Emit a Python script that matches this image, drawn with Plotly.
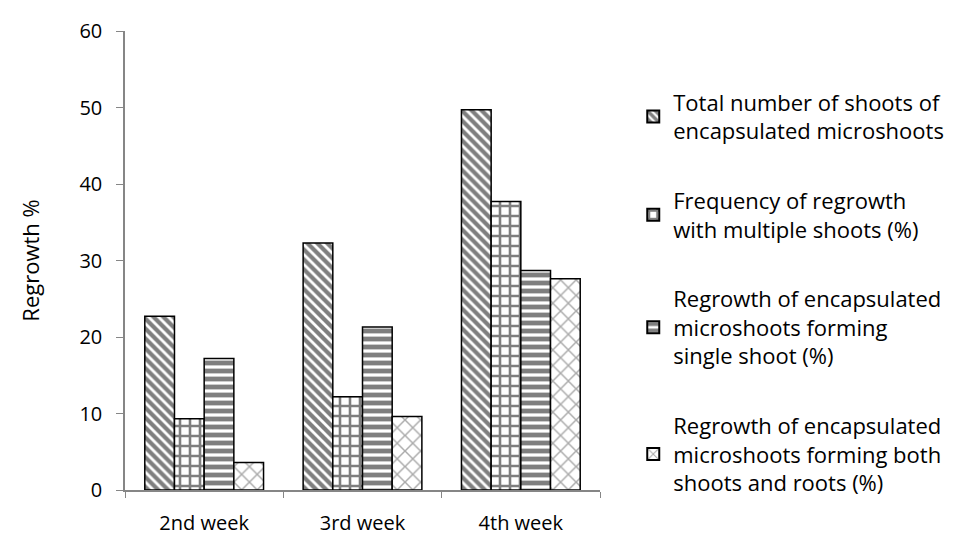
import plotly.graph_objects as go

categories = ["2nd week", "3rd week", "4th week"]
series_names = [
    "Total number of shoots of<br>encapsulated microshoots",
    "Frequency of regrowth<br>with multiple shoots (%)",
    "Regrowth of encapsulated<br>microshoots forming<br>single shoot (%)",
    "Regrowth of encapsulated<br>microshoots forming both<br>shoots and roots (%)",
]
total_shoots = [22.7, 32.3, 49.7]
multiple_shoots = [9.3, 12.2, 37.7]
single_shoot = [17.2, 21.3, 28.7]
shoots_and_roots = [3.6, 9.6, 27.6]
y_ticks = [0, 10, 20, 30, 40, 50, 60]

values = [total_shoots, multiple_shoots, single_shoot, shoots_and_roots]
patterns = [
    dict(shape="\\", fgcolor="black", bgcolor="white", size=7, solidity=0.6),
    dict(shape="+", fgcolor="black", bgcolor="white", size=10, solidity=0.45),
    dict(shape="-", fgcolor="black", bgcolor="white", size=8, solidity=0.6),
    dict(shape="x", fgcolor="#555555", bgcolor="white", size=11, solidity=0.25),
]

FONT = "'Open Sans', sans-serif"

fig = go.Figure()
for i, (name, vals, pat) in enumerate(zip(series_names, values, patterns)):
    fig.add_trace(go.Bar(
        x=categories, y=vals, name=name,
        legendgroup=f"g{i}",
        marker=dict(color="white", pattern=pat,
                    line=dict(color="black", width=1.5)),
    ))

fig.update_layout(
    width=958, height=536,
    margin=dict(l=117, r=366, t=23, b=54, autoexpand=False),
    paper_bgcolor="white", plot_bgcolor="white",
    font=dict(family=FONT, size=20, color="black"),
    barmode="group", bargap=0.25, bargroupgap=0,
    showlegend=True,
    legend=dict(x=1.07, xanchor="left", y=0.89, yanchor="top",
                tracegroupgap=38, font=dict(size=22, family=FONT),
                traceorder="grouped", itemsizing="constant",
                itemwidth=30),
    xaxis=dict(showline=True, linecolor="#868686", linewidth=1.5,
               ticks="outside", ticklen=6, tickcolor="#868686",
               tickson="boundaries", showgrid=False,
               ticklabelstandoff=14,
               tickfont=dict(size=20, family=FONT)),
    yaxis=dict(range=[0, 60], tickvals=y_ticks, showline=True,
               linecolor="#868686", linewidth=1.5, ticks="outside",
               ticklen=7, tickcolor="#868686", showgrid=False,
               zeroline=False, ticklabelstandoff=10,
               title=dict(text="Regrowth %", font=dict(size=22, family=FONT),
                          standoff=34),
               tickfont=dict(size=20, family=FONT)),
)

fig.write_html("out.html")
